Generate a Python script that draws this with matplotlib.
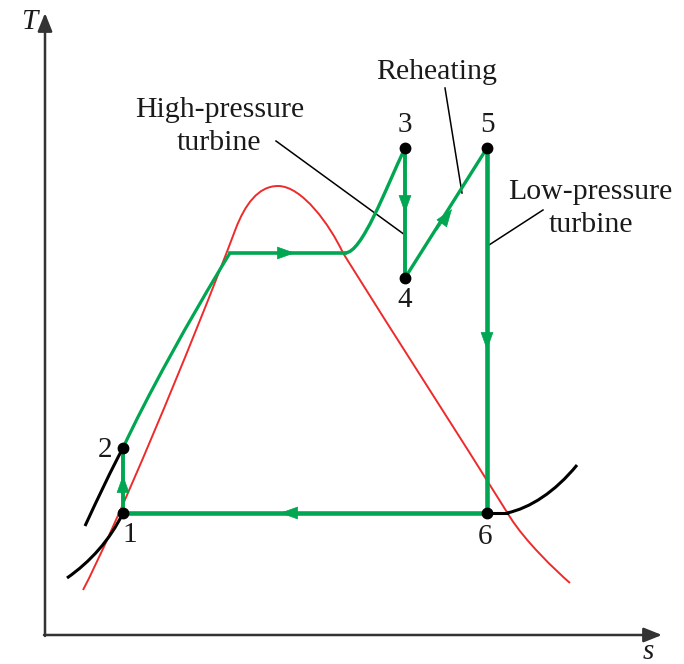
import matplotlib.pyplot as plt
from matplotlib.path import Path
from matplotlib.patches import PathPatch

# coordinates (s to the right, T downward in pixel units)
GREEN = "#00a651"
RED = "#ee2a2a"
INK = "#1a1a1a"

states = ["1", "2", "3", "4", "5", "6"]
state_s = [123, 123, 405, 405, 487, 487]
state_T = [513, 448, 148, 278, 148, 513]
label_s = [130, 105, 405, 405, 487, 485]
label_T = [535, 450, 125, 300, 125, 537]

# saturation dome (bezier control points, peak at index 6)
dome_s = [83, 113, 190, 236, 245, 258, 278, 302, 330, 343, 398, 455, 510, 525, 555, 570]
dome_T = [590, 533, 350, 228, 205, 186, 186, 186, 225, 253, 341, 429, 517, 541, 570, 583]

# boiler heating 2 -> 3
boil_s = [123, 145, 190, 230, 345]
boil_T = [448, 400, 318, 253, 253]
super_s = [345, 362, 385, 405]
super_T = [253, 253, 190, 148]

# constant pressure lines (black)
liq_s = [67, 90, 110, 123]
liq_T = [578, 562, 540, 513]
comp_s = [85, 98, 112, 123]
comp_T = [526, 498, 468, 448]
cond_s = [487, 507, 530, 555, 577]
cond_T = [513, 513, 508, 492, 465]

# flow arrows: (tail_s, tail_T, head_s, head_T)
arrows = [
    (123, 500, 123, 475),
    (270, 253, 295, 253),
    (405, 190, 405, 213),
    (437, 230, 452, 209),
    (487, 325, 487, 350),
    (305, 513, 280, 513),
]

annotations = [
    ("High-pressure", 220, 110), ("turbine", 219, 143),
    ("Reheating", 437, 72),
    ("Low-pressure", 590, 192), ("turbine", 591, 225),
]
leaders = [((276, 141), (405, 235)), ((445, 88), (462, 193)), ((543, 210), (489, 245))]


def bezier(ax, xs, ys, **kw):
    verts = list(zip(xs, ys))
    codes = [Path.MOVETO] + [Path.CURVE4] * (len(verts) - 1)
    ax.add_patch(PathPatch(Path(verts, codes), fill=False, **kw))


plt.rcParams["font.family"] = ["Liberation Serif", "DejaVu Serif"]

fig = plt.figure(figsize=(6.84, 6.64), dpi=100)
ax = fig.add_axes([0, 0, 1, 1])
ax.set_xlim(0, 684)
ax.set_ylim(664, 0)
ax.axis("off")

# axes with arrows
ax.annotate("", xy=(45, 13), xytext=(45, 636),
            arrowprops=dict(arrowstyle="-|>,head_length=0.55,head_width=0.22",
                            color="#333333", lw=1.8, mutation_scale=20, shrinkA=0, shrinkB=0))
ax.annotate("", xy=(662, 635), xytext=(44, 635),
            arrowprops=dict(arrowstyle="-|>,head_length=0.55,head_width=0.22",
                            color="#333333", lw=1.8, mutation_scale=20, shrinkA=0, shrinkB=0))
ax.text(29, 22, "T", fontsize=21, style="italic", ha="center", va="center", color=INK)
ax.text(648, 652, "s", fontsize=21, style="italic", ha="center", va="center", color=INK)

# saturation dome
bezier(ax, dome_s[:7], dome_T[:7], edgecolor=RED, lw=1.4, zorder=2)
bezier(ax, dome_s[6:], dome_T[6:], edgecolor=RED, lw=1.4, zorder=2)

# black constant pressure curves
bezier(ax, liq_s, liq_T, edgecolor="black", lw=2.2, zorder=2)
bezier(ax, comp_s, comp_T, edgecolor="black", lw=2.2, zorder=2)
ax.plot(cond_s[:2], cond_T[:2], color="black", lw=2.2, zorder=2)
bezier(ax, cond_s[1:], cond_T[1:], edgecolor="black", lw=2.2, zorder=2)

# cycle
ax.plot(state_s[:2], state_T[:2], color=GREEN, lw=2.8, zorder=3)
bezier(ax, boil_s[:4], boil_T[:4], edgecolor=GREEN, lw=2.3, zorder=3)
ax.plot(boil_s[3:], boil_T[3:], color=GREEN, lw=2.6, zorder=3)
bezier(ax, super_s, super_T, edgecolor=GREEN, lw=2.4, zorder=3)
ax.plot(state_s[2:4], state_T[2:4], color=GREEN, lw=2.8, zorder=3)
ax.plot(state_s[3:5], state_T[3:5], color=GREEN, lw=2.4, zorder=3)
ax.plot(state_s[4:6], state_T[4:6], color=GREEN, lw=3.3, zorder=3)
ax.plot([state_s[5], state_s[0]], [state_T[5], state_T[0]], color=GREEN, lw=3.3, zorder=3)

for ts, tT, hs, hT in arrows:
    ax.annotate("", xy=(hs, hT), xytext=(ts, tT),
                arrowprops=dict(arrowstyle="-|>,head_length=0.7,head_width=0.25",
                                color=GREEN, lw=0.5, mutation_scale=17,
                                shrinkA=0, shrinkB=0), zorder=4)

ax.plot(state_s, state_T, "o", color="black", ms=7.5, zorder=5)
for name, ls, lT in zip(states, label_s, label_T):
    ax.text(ls, lT, name, fontsize=21, ha="center", va="center", color=INK)

for txt, ts, tT in annotations:
    ax.text(ts, tT, txt, fontsize=21.5, ha="center", va="center", color=INK)
for p0, p1 in leaders:
    ax.plot([p0[0], p1[0]], [p0[1], p1[1]], color="black", lw=1.1)

fig.savefig("out.png", dpi=100)
